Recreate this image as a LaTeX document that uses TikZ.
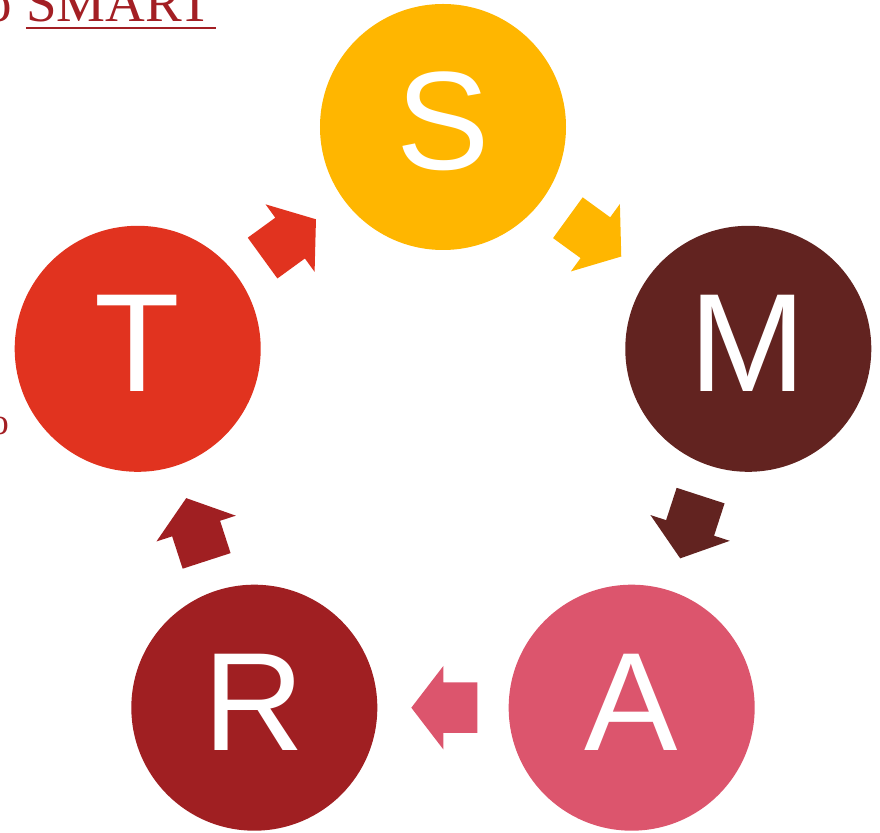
\documentclass[tikz,border=0pt]{standalone}
\usepackage{fontspec}
\setmainfont{Liberation Serif}
\setsansfont{Liberation Sans}
\usepackage{xcolor}
\usetikzlibrary{shapes.arrows,calc}
\definecolor{smartS}{HTML}{FFB600}
\definecolor{smartM}{HTML}{622320}
\definecolor{smartA}{HTML}{DC556D}
\definecolor{smartR}{HTML}{A01F22}
\definecolor{smartT}{HTML}{E1331F}
\definecolor{titlered}{HTML}{A31F24}
\begin{document}
\begin{tikzpicture}[x=1pt,y=1pt, circ/.style={circle,minimum size=246pt,inner sep=0pt,text=white,font=\sffamily\fontsize{140}{140}\selectfont,text height=100pt,text depth=14pt}, blk/.style={single arrow,draw=none,minimum height=66pt,minimum width=0pt,inner xsep=0pt,inner ysep=25pt,single arrow head extend=16.5pt,single arrow tip angle=105}, captxt/.style={inner sep=0pt,text=titlered}]
\useasboundingbox (-443,-384) rectangle (437,448);
\clip (-443,-384) rectangle (437,448);
\node[circ,fill=smartS] (s) at (90:321) {S};
\node[circ,fill=smartM] (m) at (18:321) {M};
\node[circ,fill=smartA] (a) at (-54:321) {A};
\node[circ,fill=smartR] (r) at (-126:321) {R};
\node[circ,fill=smartT] (t) at (162:321) {T};
\node[blk,fill=smartS,rotate=-36] (sm) at ($(s)!0.5!(m)!11pt!(s)$) {};
\node[blk,fill=smartM,rotate=-108] (ma) at ($(m)!0.5!(a)!11pt!(m)$) {};
\node[blk,fill=smartA,rotate=180] (ar) at ($(a)!0.5!(r)!11pt!(a)$) {};
\node[blk,fill=smartR,rotate=108] (rt) at ($(r)!0.5!(t)!11pt!(r)$) {};
\node[blk,fill=smartT,rotate=36] (ts) at ($(t)!0.5!(s)!11pt!(t)$) {};
% cut-off title and side text
\node[captxt,anchor=base east,font=\fontsize{55}{55}\selectfont] (pre) at (-431,426) {o};
\node[captxt,anchor=base west,font=\fontsize{55}{55}\selectfont] (word) at (-417,426) {SMART};
\draw[titlered,line width=2.5pt] ([shift={(0,-6)}]word.base west) -- ([shift={(3,-6)}]word.base east);
\node[captxt,anchor=base east,font=\fontsize{37}{37}\selectfont] (side) at (-434,13) {o};
\end{tikzpicture}
\end{document}
